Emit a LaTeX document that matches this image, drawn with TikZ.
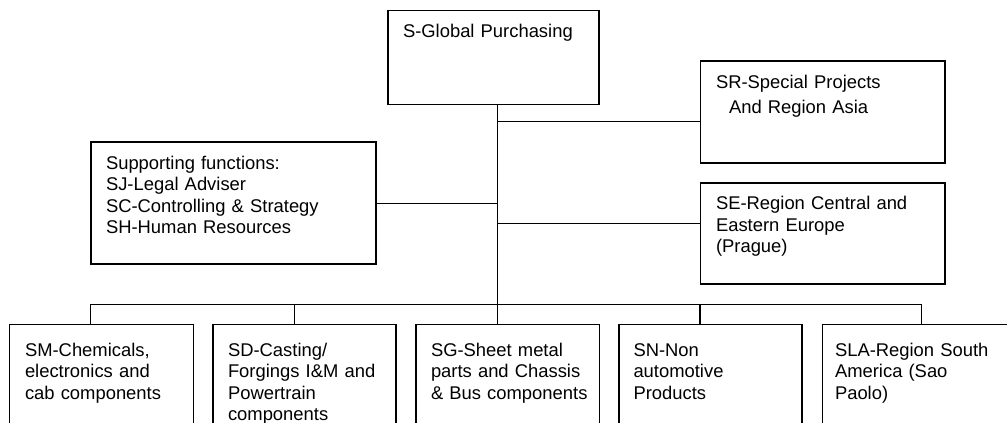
\documentclass[tikz,border=0pt]{standalone}
\usepackage{fontspec}
\setmainfont{Liberation Sans}
\tikzset{
  box/.style={draw=black, line width=1.4pt, inner sep=0pt, outer sep=0pt, anchor=north west, fill=white},
  txt/.style={inner sep=0pt, outer sep=0pt, anchor=base west, text width=300pt, align=left,
    font=\fontsize{18.4pt}{21.5pt}\selectfont},
  link/.style={line width=1.4pt, line cap=rect}
}
\begin{document}
\begin{tikzpicture}[x=1pt,y=-1pt]
\useasboundingbox (0,0) rectangle (1007,423);
\clip (0,0) rectangle (1007,423);
\fill[white] (0,0) rectangle (1007,423);
% connector coordinates on the main vertical line
\coordinate (csr) at (497.5,121.5);
\coordinate (csup) at (497.5,203.5);
\coordinate (cse) at (497.5,223.5);
\coordinate (d1) at (90.5,304.5);
\coordinate (d2) at (294.5,304.5);
\coordinate (d3) at (497.5,304.5);
\coordinate (d4) at (700,304.5);
\coordinate (d5) at (921.5,304.5);
% connectors
\draw[link] (d1) -- (d5);
% boxes
\node[box, minimum width=211pt, minimum height=94pt] (top) at (388,10.5) {};
\node[box, minimum width=244.5pt, minimum height=102pt] (sr) at (700.5,61) {};
\node[box, minimum width=285pt, minimum height=122pt] (sup) at (91,142) {};
\node[box, minimum width=244.5pt, minimum height=101pt] (se) at (700.5,183) {};
\node[box, minimum width=184pt, minimum height=130pt] (sm) at (9.5,324.5) {};
\node[box, minimum width=183pt, minimum height=130pt] (sd) at (213,324.5) {};
\node[box, minimum width=183.5pt, minimum height=130pt] (sg) at (416,324.5) {};
\node[box, minimum width=183pt, minimum height=130pt] (sn) at (619,324.5) {};
\node[box, minimum width=240pt, minimum height=130pt] (sla) at (822.5,324.5) {};
\draw[link] (top.south -| csr) -- (sg.north -| d3);
\draw[link] (csr) -- (csr -| sr.west);
\draw[link] (sup.east |- csup) -- (csup);
\draw[link] (cse) -- (cse -| se.west);
\draw[link] (d1) -- (d1 |- sm.north);
\draw[link] (d2) -- (d2 |- sd.north);
\draw[link] (d4) -- (d4 |- sn.north);
\draw[link] (d5) -- (d5 |- sla.north);
% texts
\node[txt] (ttop) at (403,37) {S-Global Purchasing};
\node[txt] (tsr) at (716,88.5) {SR-Special Projects\\[3.5pt]\hspace*{13pt}And Region Asia};
\node[txt] (tsup) at (106,169) {Supporting functions:\\SJ-Legal Adviser\\SC-Controlling \& Strategy\\SH-Human Resources};
\node[txt] (tse) at (716,209.5) {SE-Region Central and\\Eastern Europe\\(Prague)};
\node[txt] (tsm) at (25,356) {SM-Chemicals,\\electronics and\\cab components};
\node[txt] (tsd) at (228,356) {SD-Casting/\\Forgings I\&M and\\Powertrain\\components};
\node[txt] (tsg) at (431,356) {SG-Sheet metal\\parts and Chassis\\\& Bus components};
\node[txt] (tsn) at (633.5,356) {SN-Non\\automotive\\Products};
\node[txt] (tsla) at (835,356) {SLA-Region South\\America (Sao\\Paolo)};
\end{tikzpicture}
\end{document}
